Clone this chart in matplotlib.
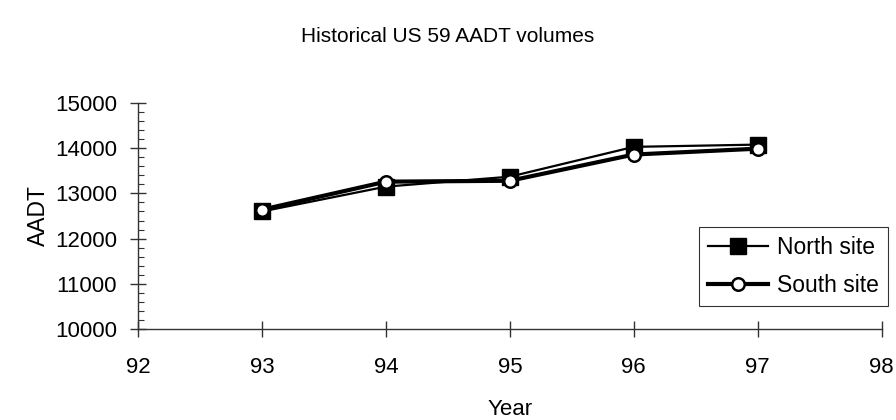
import numpy as np
import matplotlib.pyplot as plt
from matplotlib.ticker import MultipleLocator

plt.rcParams['font.family'] = ['Liberation Sans', 'DejaVu Sans']

years = [93, 94, 95, 96, 97]
north = [12600, 13150, 13370, 14030, 14080]
south = [12640, 13260, 13280, 13860, 13990]

fig = plt.figure(figsize=(8.96, 4.2), dpi=100)
ax = fig.add_axes([0.154, 0.2167, 0.830, 0.538])

ax.plot(years, north, color='black', lw=1.6, marker='s', markersize=11.5,
        markerfacecolor='black', label='North site', zorder=3)
ax.plot(years, south, color='black', lw=3, marker='o', markersize=9,
        markerfacecolor='white', markeredgewidth=1.8, label='South site', zorder=4)

ax.set_xlim(92, 98)
ax.set_ylim(10000, 15000)
ax.xaxis.set_major_locator(MultipleLocator(1))
ax.yaxis.set_major_locator(MultipleLocator(1000))
ax.yaxis.set_minor_locator(MultipleLocator(200))

for s in ['top', 'right']:
    ax.spines[s].set_visible(False)
for s in ['left', 'bottom']:
    ax.spines[s].set_color('#333333')
    ax.spines[s].set_linewidth(1)

ax.tick_params(axis='both', which='major', direction='inout', length=12,
               width=1, color='#333333', labelsize=16)
ax.tick_params(axis='x', which='major', pad=14)
ax.tick_params(axis='y', which='major', pad=9)
ax.tick_params(axis='y', which='minor', direction='in', length=4.5,
               width=0.8, color='#333333')

ax.set_xlabel('Year', fontsize=16, labelpad=15)
ax.set_ylabel('AADT', fontsize=16.5, labelpad=4)
fig.suptitle('Historical US 59 AADT volumes', fontsize=15, x=0.5, y=0.935)

leg = ax.legend(loc='upper left', bbox_to_anchor=(699 / 896, 1 - 227 / 420),
                bbox_transform=fig.transFigure, borderaxespad=0, fontsize=16.5,
                frameon=True, fancybox=False, handlelength=2.6, handletextpad=0.4,
                labelspacing=0.65, borderpad=0.4)
leg.get_frame().set_edgecolor('black')
leg.get_frame().set_linewidth(0.8)

plt.savefig('out.png', dpi=100)
